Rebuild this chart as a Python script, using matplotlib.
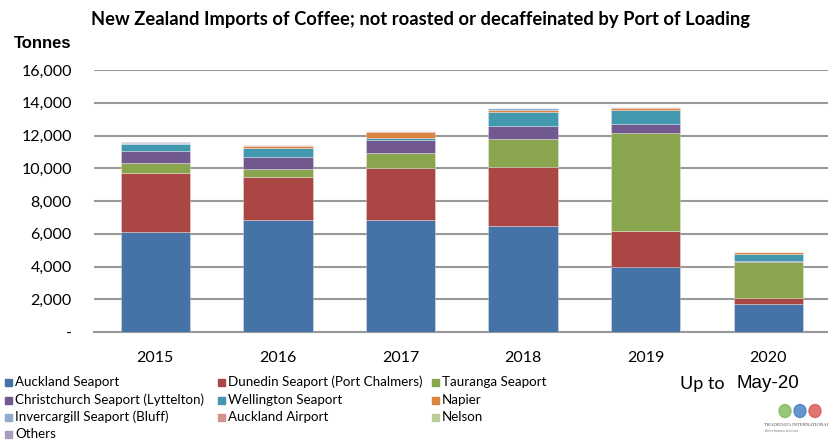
import matplotlib
matplotlib.use("Agg")
import matplotlib.pyplot as plt
from matplotlib.patches import Rectangle, Ellipse
import numpy as np

years = ["2015", "2016", "2017", "2018", "2019", "2020"]
series_names = [
    "Auckland Seaport", "Dunedin Seaport (Port Chalmers)", "Tauranga Seaport",
    "Christchurch Seaport (Lyttelton)", "Wellington Seaport", "Napier",
    "Invercargill Seaport (Bluff)", "Auckland Airport", "Nelson", "Others",
]
auckland = [6120, 6860, 6820, 6470, 3950, 1730]
dunedin = [3605, 2600, 3190, 3600, 2190, 325]
tauranga = [590, 510, 940, 1730, 5990, 2200]
christchurch = [735, 730, 790, 790, 570, 100]
wellington = [450, 530, 120, 860, 850, 430]
napier = [0, 120, 350, 100, 120, 80]
invercargill = [40, 20, 20, 110, 20, 10]
auckland_airport = [30, 30, 20, 20, 20, 10]
nelson = [0, 0, 0, 0, 0, 0]
others = [10, 10, 10, 10, 10, 5]
series_values = [auckland, dunedin, tauranga, christchurch, wellington, napier,
                 invercargill, auckland_airport, nelson, others]
colors = ["#4572A7", "#AA4643", "#89A54E", "#71588F", "#4198AF", "#DB843D",
          "#93A9CF", "#D19392", "#B9CD96", "#A99BBD"]
y_ticks = [0, 2000, 4000, 6000, 8000, 10000, 12000, 14000, 16000]
y_tick_labels = ["-", "2,000", "4,000", "6,000", "8,000", "10,000", "12,000", "14,000", "16,000"]

W, H = 829, 441
fig = plt.figure(figsize=(W / 100, H / 100), dpi=100)
ax = fig.add_axes([94 / W, (H - 332) / H, (829.5 - 94) / W, (332 - 70) / H])

x = np.arange(len(years))
bottom = np.zeros(len(years))
for vals, col in zip(series_values, colors):
    v = np.array(vals, dtype=float)
    ax.bar(x, v, width=0.565, bottom=bottom, color=col, edgecolor=(1, 1, 1, 0.35),
           linewidth=0.6, zorder=3)
    bottom += v

ax.set_xlim(-0.5, len(years) - 0.5)
ax.set_ylim(0, 16000)
ax.set_yticks(y_ticks)
ax.set_yticklabels(y_tick_labels, fontsize=11.5, family="Lato")
ax.set_xticks(x)
ax.set_xticklabels(years, fontsize=11.5, family="Lato")
ax.tick_params(axis="both", length=0)
ax.tick_params(axis="y", pad=16)
ax.tick_params(axis="x", pad=14)
for s in ["top", "right", "left"]:
    ax.spines[s].set_visible(False)
ax.spines["bottom"].set_color("#999999")
ax.spines["bottom"].set_linewidth(1.5)
ax.yaxis.grid(True, color="#999999", linewidth=1.5, zorder=0)
ax.set_axisbelow(True)

fig.text(421 / W, 1 - 19 / H, "New Zealand Imports of Coffee; not roasted or decaffeinated by Port of Loading",
         ha="center", va="center", fontsize=13.2, fontweight="bold", family="Lato")
fig.text(14 / W, 1 - 44 / H, "Tonnes", ha="left", va="center", fontsize=12,
         fontweight="bold", family="Liberation Sans")

# legend
col_x = [5, 218, 432]
row_y = [382, 400, 417, 434]
for i, (name, col) in enumerate(zip(series_names, colors)):
    r, c = i // 3, i % 3
    x0 = col_x[c]
    y0 = row_y[r]
    fig.add_artist(Rectangle((x0 / W, 1 - (y0 + 3.5) / H), 7 / W, 7 / H,
                             transform=fig.transFigure, color=col))
    fig.text((x0 + 10) / W, 1 - y0 / H, name, ha="left", va="center",
             fontsize=9.6, family="Lato")

fig.text(680 / W, 1 - 384 / H, "Up to", ha="left", va="center", fontsize=13, family="Lato")
fig.text(737 / W, 1 - 383 / H, "May-20", ha="left", va="center", fontsize=13.5,
         family="Liberation Sans")

# logo
for cx, cc in zip([785, 800, 815], ["#7DBB5B", "#3F7CC0", "#D9534F"]):
    fig.add_artist(Ellipse((cx / W, 1 - 411 / H), 12 / W, 13 / H,
                           transform=fig.transFigure, color=cc, alpha=0.8))
fig.text(797 / W, 1 - 425 / H, "TRADEDATA INTERNATIONAL", ha="center", va="center",
         fontsize=3.3, family="Liberation Serif", color="#444444")
fig.text(782 / W, 1 - 431 / H, "Better business decisions", ha="center", va="center",
         fontsize=2.3, family="Liberation Serif", color="#777777")

fig.savefig("out.png", dpi=100)
